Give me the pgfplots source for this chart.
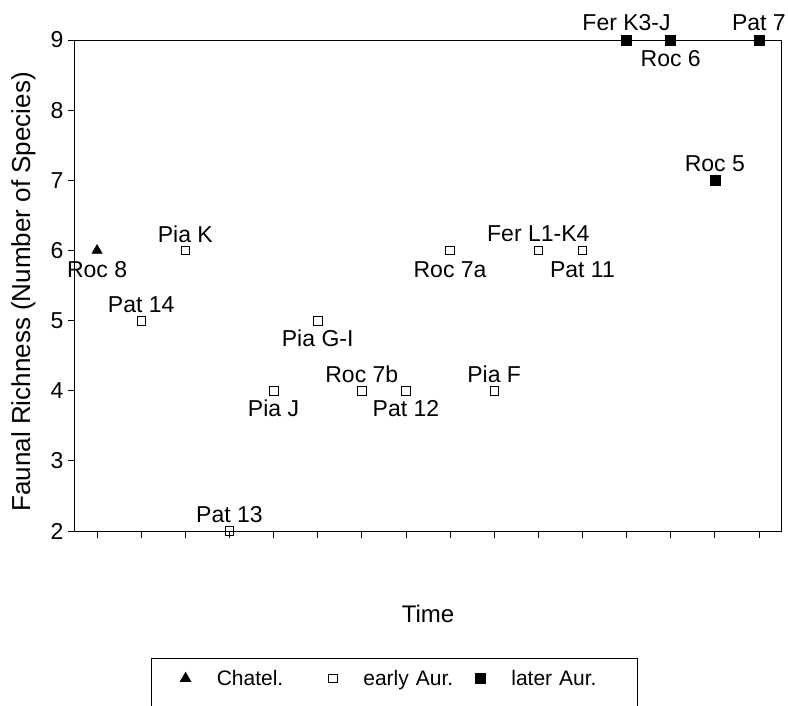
\documentclass[border=0pt]{standalone}
\usepackage{pgfplots}
\pgfplotsset{compat=1.18}
\usepackage{pgfplotstable}
\usepackage{fontspec}
\setmainfont{Liberation Sans}

\pgfplotstableread[col sep=comma]{
x,y,label,dy
1,6,Roc 8,-19
}\chatel
\pgfplotstableread[col sep=comma]{
x,y,label,dy
2,5,Pat 14,16
3,6,Pia K,16
4,2,Pat 13,17
5,4,Pia J,-18
6,5,Pia G-I,-18
7,4,Roc 7b,16
8,4,Pat 12,-18
9,6,Roc 7a,-19
10,4,Pia F,16
11,6,Fer L1-K4,17
12,6,Pat 11,-19
}\early
\pgfplotstableread[col sep=comma]{
x,y,label,dy
13,9,Fer K3-J,18
14,9,Roc 6,-18
15,7,Roc 5,17
16,9,Pat 7,18
}\later

\begin{document}
\begin{tikzpicture}
\path[use as bounding box] (0,0) rectangle (788pt,705pt);
\begin{axis}[
  at={(75pt,174pt)}, anchor=south west,
  scale only axis, width=706pt, height=491pt,
  xmin=0.5, xmax=16.5, ymin=2, ymax=9,
  xtick={1,...,16}, xticklabels={},
  ytick={2,...,9},
  tick align=outside, tick pos=left,
  major tick length=7pt,
  axis line style={line width=1pt},
  every tick/.style={black, line width=0.8pt},
  clip=false,
  /pgf/number format/assume math mode=true,
  tick label style={font=\fontsize{23}{26}\selectfont},
  yticklabel style={xshift=-1pt},
  xlabel={Time},
  ylabel={Faunal Richness (Number of Species)},
  x label style={at={(axis description cs:0.5,-0.169)}, anchor=center, font=\fontsize{24}{28}\selectfont},
  y label style={at={(axis description cs:-0.073,0.487)}, anchor=center, font=\fontsize{26}{30}\selectfont},
  point meta=explicit symbolic,
  nodes near coords,
  visualization depends on={\thisrow{dy} \as \dy},
  every node near coord/.append style={anchor=center, yshift=\dy pt,
     font=\fontsize{23}{26}\selectfont, text height=16pt, text depth=0pt, inner sep=0pt},
  legend columns=3,
  legend image post style={yshift=12pt},
  legend style={at={(axis description cs:0.1076,-0.2587)}, anchor=north west,
     draw=black, line width=0.8pt, inner xsep=29pt, inner ysep=10pt,
     font=\fontsize{21}{24}\selectfont,
     nodes={text width=95pt, text depth=25pt, align=left},
     /tikz/every odd column/.append style={column sep=24pt},
     /tikz/every even column/.append style={column sep=15pt}},
]
\addplot[only marks, mark=triangle*, mark size=6pt, black] table[x=x,y=y,meta=label] {\chatel};
\addlegendentry{Chatel.}
\addplot[only marks, mark=square, mark size=4.3pt, black, mark options={line width=0.7pt}] table[x=x,y=y,meta=label] {\early};
\addlegendentry{early Aur.}
\addplot[only marks, mark=square*, mark size=5pt, black] table[x=x,y=y,meta=label] {\later};
\addlegendentry{later Aur.}
\end{axis}
\end{tikzpicture}
\end{document}
